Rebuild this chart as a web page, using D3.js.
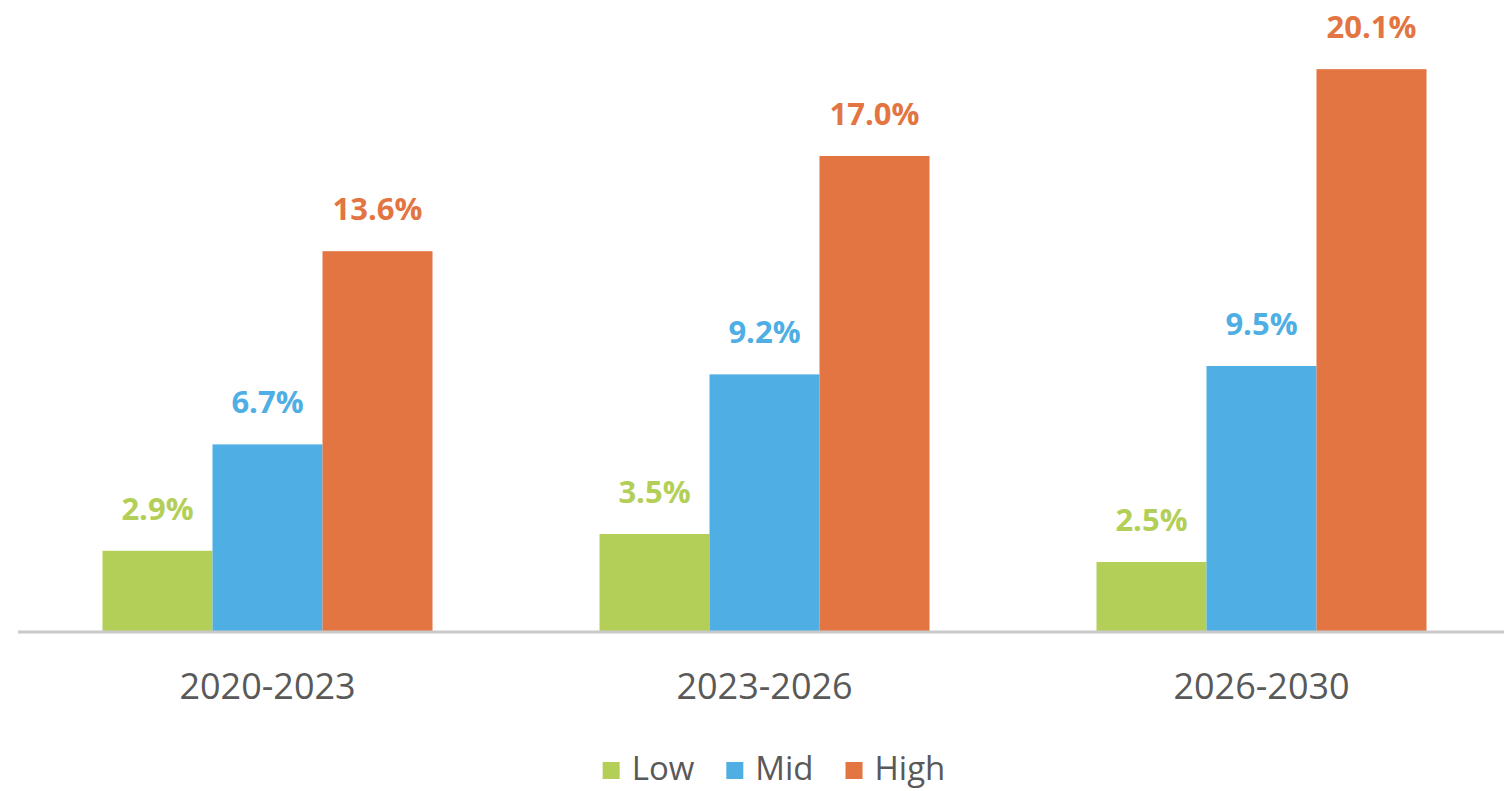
<!DOCTYPE html>
<html><head><meta charset="utf-8">
<script src="https://cdn.jsdelivr.net/npm/d3@7"></script>
<style>html,body{margin:0;padding:0;background:#fff;}svg{display:block;}</style>
</head><body>
<svg id="chart" width="1504" height="791"></svg>
<script>
const categories = ["2020-2023", "2023-2026", "2026-2030"];
const seriesNames = ["Low", "Mid", "High"];
const lowValues = [2.9, 3.5, 2.5];
const midValues = [6.7, 9.2, 9.5];
const highValues = [13.6, 17.0, 20.1];
const colors = ["#b3cf58", "#4fafe4", "#e27541"];

const series = [lowValues, midValues, highValues];
const svg = d3.select("#chart");
const baseY = 632;

const x0 = d3.scaleBand().domain(categories).range([19, 1510]).paddingInner(0).paddingOuter(0);
const x1 = d3.scaleBand().domain(seriesNames).range([0, 330]);
const y = d3.scaleLinear().domain([0, 22.57]).range([baseY, 0]);

const groups = svg.selectAll("g.grp").data(categories).enter().append("g")
  .attr("transform", d => `translate(${x0(d) + (x0.bandwidth() - 330) / 2},0)`);

groups.each(function(cat, ci) {
  const g = d3.select(this);
  seriesNames.forEach((s, si) => {
    const v = series[si][ci];
    g.append("rect")
      .attr("x", x1(s)).attr("width", x1.bandwidth())
      .attr("y", y(v)).attr("height", baseY - y(v))
      .attr("fill", colors[si]);
    g.append("text")
      .attr("x", x1(s) + x1.bandwidth() / 2)
      .attr("y", y(v) - 31)
      .attr("text-anchor", "middle")
      .attr("font-family", "Open Sans")
      .attr("font-weight", "bold")
      .attr("font-size", 31)
      .attr("fill", colors[si])
      .text(v.toFixed(1) + "%");
  });
});

// axis
const xAxis = d3.axisBottom(x0).tickSize(0).tickPadding(0);
const ax = svg.append("g").attr("transform", `translate(0,${baseY})`).call(xAxis);
ax.select(".domain").attr("stroke", "#c9c9c9").attr("stroke-width", 3).attr("d", `M18,0H1504`);
ax.selectAll(".tick text")
  .attr("dy", null).attr("y", 67)
  .attr("font-family", "Open Sans").attr("font-size", 36).attr("fill", "#595959");

// legend
const legend = svg.append("g");
let lx = 0;
seriesNames.forEach((s, i) => {
  const item = legend.append("g").attr("transform", `translate(${lx},0)`);
  item.append("rect").attr("x", 0).attr("y", 762).attr("width", 17).attr("height", 17).attr("fill", colors[i]);
  const t = item.append("text").attr("x", 29).attr("y", 780)
    .attr("font-family", "Open Sans").attr("font-size", 33).attr("fill", "#595959").text(s);
  lx += 29 + t.node().getComputedTextLength() + 32;
});
const lw = lx - 32;
legend.attr("transform", `translate(${774 - lw / 2},0)`);
</script>
</body></html>
